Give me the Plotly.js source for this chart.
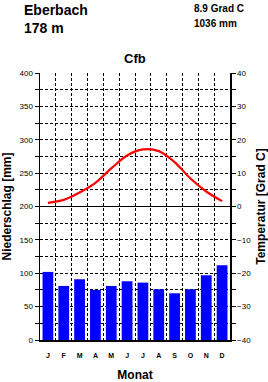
<!DOCTYPE html>
<html><head><meta charset="utf-8">
<script src="https://cdn.plot.ly/plotly-3.0.1.min.js"></script>
<style>html,body{margin:0;padding:0;background:#fff}#c{width:268px;height:382px}</style>
</head><body><div id="c"></div>
<script>
const months = ["J","F","M","A","M","J","J","A","S","O","N","D"];
const precipitation = [102, 81, 91, 75, 81, 88, 86, 76, 70, 76, 97, 112];
const temperature = [1.1, 2.0, 4.2, 7.1, 11.4, 15.3, 17.1, 16.6, 13.3, 8.4, 4.5, 1.6];
const station = "Eberbach";
const elevation = "178 m";
const meanTemp = "8.9 Grad C";
const annualPrecip = "1036 mm";
const climateClass = "Cfb";

const idx = months.map((m, i) => i);
const F = "Liberation Sans, Arial, sans-serif";
const dash = "3px,2px";

const data = [
  {type: "bar", x: idx, y: precipitation, yaxis: "y", marker: {color: "#0000ff", line: {width: 0}}, width: 0.68, hoverinfo: "skip"},
  {type: "scatter", mode: "lines", x: idx, y: temperature, yaxis: "y2", line: {color: "#ff0000", width: 2.2, shape: "spline"}, hoverinfo: "skip"}
];

const layout = {
  width: 268, height: 382,
  margin: {l: 40, r: 38, t: 73, b: 42, pad: 0},
  paper_bgcolor: "#fff", plot_bgcolor: "#fff",
  showlegend: false,
  font: {family: F, color: "#000", size: 8},
  xaxis: {
    range: [-0.5, 11.5], tickvals: idx, ticktext: months,
    showgrid: false, zeroline: false,
    showline: true, linecolor: "#000", linewidth: 1.5,
    ticks: "", ticklabelstandoff: 8,
    tickfont: {size: 7, family: F, weight: "bold"},
    minor: {tick0: 0.5, dtick: 1, showgrid: true, gridcolor: "#000", griddash: dash, gridwidth: 1, ticks: ""},
    title: {text: "Monat", font: {size: 12, family: F, weight: "bold"}, standoff: 14}
  },
  yaxis: {
    range: [0, 400], dtick: 50, tick0: 0,
    showgrid: true, gridcolor: "#000", griddash: dash, gridwidth: 1,
    zeroline: false, showline: true, linecolor: "#000", linewidth: 1.5,
    ticks: "outside", ticklen: 4, tickcolor: "#000", tickwidth: 1,
    tickfont: {size: 8, family: F},
    minor: {dtick: 25, tick0: 0, showgrid: true, gridcolor: "#000", griddash: dash, gridwidth: 1, ticks: "outside", ticklen: 4, tickcolor: "#000"},
    title: {text: "Niederschlag [mm]", font: {size: 12, family: F, weight: "bold"}, standoff: 6}
  },
  yaxis2: {
    range: [-40, 40], dtick: 10, tick0: 0, overlaying: "y", side: "right",
    showgrid: false, zeroline: true, zerolinecolor: "#000", zerolinewidth: 1.2,
    showline: true, linecolor: "#000", linewidth: 1.5,
    ticks: "outside", ticklen: 4, tickcolor: "#000", tickwidth: 1,
    tickfont: {size: 8, family: F},
    minor: {dtick: 5, tick0: 0, showgrid: false, ticks: "outside", ticklen: 4, tickcolor: "#000"},
    title: {text: "Temperatur [Grad C]", font: {size: 12, family: F, weight: "bold"}, standoff: 8}
  },
  annotations: [
    {xref: "paper", yref: "paper", x: -0.095, y: 1.272, xanchor: "left", yanchor: "top", showarrow: false, text: station, font: {size: 14, family: F, weight: "bold"}},
    {xref: "paper", yref: "paper", x: -0.095, y: 1.205, xanchor: "left", yanchor: "top", showarrow: false, text: elevation, font: {size: 14, family: F, weight: "bold"}},
    {xref: "paper", yref: "paper", x: 0.8, y: 1.268, xanchor: "left", yanchor: "top", showarrow: false, text: meanTemp, font: {size: 10, family: F, weight: "bold"}},
    {xref: "paper", yref: "paper", x: 0.8, y: 1.212, xanchor: "left", yanchor: "top", showarrow: false, text: annualPrecip, font: {size: 10, family: F, weight: "bold"}},
    {xref: "paper", yref: "paper", x: 0.5, y: 1.056, xanchor: "center", yanchor: "middle", showarrow: false, text: climateClass, font: {size: 13, family: F, weight: "bold"}}
  ]
};

Plotly.newPlot("c", data, layout, {staticPlot: true, displayModeBar: false});
</script>
</body></html>
